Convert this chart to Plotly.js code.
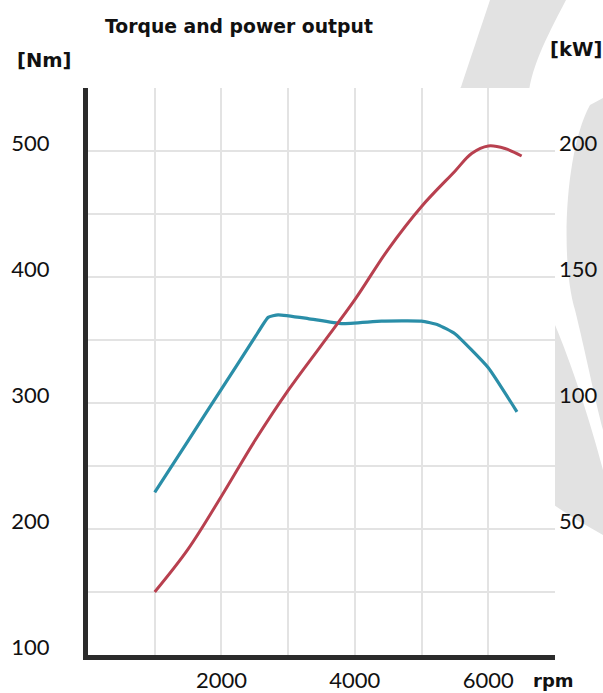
<!DOCTYPE html>
<html>
<head>
<meta charset="utf-8">
<script src="https://cdn.plot.ly/plotly-3.0.1.min.js"></script>
<style>
  html, body { margin: 0; padding: 0; background: #ffffff; }
  #wrap { position: relative; width: 603px; height: 693px; overflow: hidden; }
  #bg { position: absolute; left: 0; top: 0; }
  #chart { position: absolute; left: 0; top: 0; width: 603px; height: 693px; }
</style>
</head>
<body>
<div id="wrap">
  <svg id="bg" width="603" height="693" viewBox="0 0 603 693">
    <path d="M590,105 C565,150 560,260 575,310 C585,350 595,400 603,430 L603,98 Z" fill="#e2e2e2"/>
    <path d="M490,0 L566,0 C545,40 530,70 528,100 C520,200 535,280 555,325 C570,360 590,420 603,470 L603,535 C580,522 560,510 540,495 C470,440 440,330 440,220 C440,150 450,100 461,87 C470,60 480,30 490,0 Z" fill="#e2e2e2"/>
  </svg>
  <div id="chart"></div>
</div>
<script>
// Engine speed (rpm) and torque (Nm)
const rpmTorque = [1000, 1500, 2000, 2500, 2700, 2850, 3300, 3800, 4400, 5000, 5250, 5500, 6000, 6430];
const torqueNm  = [229, 270, 311, 352, 368, 370, 367, 363, 365, 365, 362, 355, 328, 293];

// Engine speed (rpm) and power (kW)
const rpmPower = [1000, 1500, 2000, 2500, 3000, 3500, 4000, 4500, 5000, 5500, 5750, 6000, 6250, 6500];
const powerKw  = [25, 42, 63, 85, 105, 123, 141, 161, 178, 192, 199, 202, 201, 198];

// Tick labels
const rpmTicks = [2000, 4000, 6000];
const nmTicks  = [100, 200, 300, 400, 500];
const kwTicks  = [50, 100, 150, 200];

const gridCol = '#e3e3e3';
const axisCol = '#2b2b2b';
const numFont = {family: 'Lato, sans-serif', size: 22, color: '#111111'};
const boldFam = 'DejaVu Sans, sans-serif';

const traces = [
  {
    x: rpmTorque, y: torqueNm, yaxis: 'y', type: 'scatter', mode: 'lines',
    line: {color: '#2a8ea8', width: 3.2, shape: 'spline', smoothing: 0.4},
    hoverinfo: 'skip'
  },
  {
    x: rpmPower, y: powerKw, yaxis: 'y2', type: 'scatter', mode: 'lines',
    line: {color: '#b8404f', width: 3, shape: 'spline', smoothing: 1},
    hoverinfo: 'skip'
  }
];

const layout = {
  width: 603, height: 693,
  margin: {l: 88, r: 48, t: 88, b: 38, pad: 0},
  paper_bgcolor: 'rgba(0,0,0,0)',
  plot_bgcolor: '#ffffff',
  showlegend: false,
  title: {
    text: '<b>Torque and power output</b>',
    font: {family: boldFam, size: 18.8, color: '#111111'},
    xref: 'container', yref: 'container',
    x: 105 / 603, xanchor: 'left',
    y: 1 - 26 / 693, yanchor: 'middle'
  },
  xaxis: {
    range: [0, 7000],
    tickmode: 'array', tickvals: rpmTicks, ticktext: rpmTicks.map(String),
    ticks: '', tickfont: numFont, ticklabelstandoff: 2,
    showline: true, linewidth: 5, linecolor: axisCol,
    showgrid: true, gridcolor: gridCol, gridwidth: 2,
    minor: {tickmode: 'linear', tick0: 0, dtick: 1000, showgrid: true, gridcolor: gridCol, gridwidth: 2},
    zeroline: false, fixedrange: true
  },
  yaxis: {
    range: [100, 550],
    tickmode: 'array', tickvals: nmTicks, ticktext: nmTicks.map(String),
    ticks: '', tickfont: numFont, ticklabelstandoff: 29, ticklabelshift: -8,
    showline: true, linewidth: 5, linecolor: axisCol,
    showgrid: true, gridcolor: gridCol, gridwidth: 2,
    minor: {tickmode: 'linear', tick0: 100, dtick: 50, showgrid: true, gridcolor: gridCol, gridwidth: 2},
    zeroline: false, fixedrange: true
  },
  yaxis2: {
    range: [0, 225], overlaying: 'y', side: 'right',
    tickmode: 'array', tickvals: kwTicks, ticktext: kwTicks.map(String),
    ticks: '', tickfont: numFont, ticklabelstandoff: 3, ticklabelshift: -8,
    showline: false, showgrid: false, zeroline: false, fixedrange: true
  },
  annotations: [
    {text: '<b>[Nm]</b>', xref: 'paper', yref: 'paper', x: (15 - 88) / 467, y: (655 - 60) / 567,
     xanchor: 'left', yanchor: 'middle', showarrow: false,
     font: {family: boldFam, size: 19.5, color: '#111111'}},
    {text: '<b>[kW]</b>', xref: 'paper', yref: 'paper', x: (548 - 88) / 467, y: (655 - 50) / 567,
     xanchor: 'left', yanchor: 'middle', showarrow: false,
     font: {family: boldFam, size: 19.5, color: '#111111'}},
    {text: '<b>rpm</b>', xref: 'paper', yref: 'paper', x: (531 - 88) / 467, y: (655 - 681) / 567,
     xanchor: 'left', yanchor: 'middle', showarrow: false,
     font: {family: boldFam, size: 18, color: '#111111'}}
  ]
};

Plotly.newPlot('chart', traces, layout, {staticPlot: true, displayModeBar: false});
</script>
</body>
</html>
